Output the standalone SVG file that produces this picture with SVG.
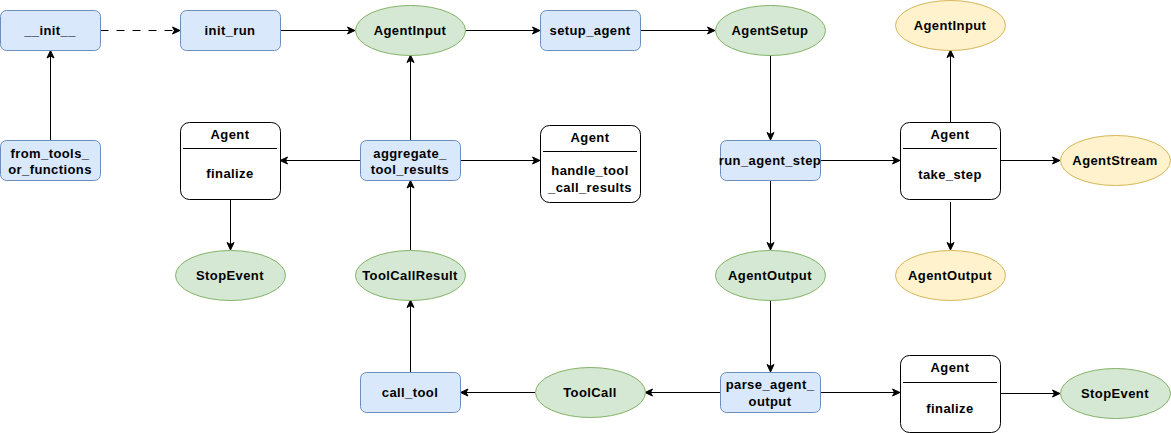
<svg xmlns="http://www.w3.org/2000/svg" width="1171" height="433" viewBox="0 0 1171 433">
<defs>
<marker id="arr" markerUnits="userSpaceOnUse" markerWidth="10" markerHeight="10" refX="8" refY="4.5" orient="auto">
<path d="M0.5,1 L8,4.5 L0.5,8 L2.5,4.5 Z" fill="#000" stroke="#000" stroke-width="1"/>
</marker>
</defs>
<style>
text{font-family:"Liberation Sans",Arial,Helvetica,sans-serif;font-size:13px;letter-spacing:0.4px;font-weight:bold;fill:#000;text-anchor:middle}
.fn{fill:#dae8fc;stroke:#6c8ebf;stroke-width:1}
.ev{fill:#d5e8d4;stroke:#82b366;stroke-width:1}
.yv{fill:#fff2cc;stroke:#d6b656;stroke-width:1}
.ag{fill:#fff;stroke:#000;stroke-width:1}
.dv{stroke:#000;stroke-width:1}
.c{fill:none;stroke:#000;stroke-width:1;marker-end:url(#arr)}
.d{stroke-dasharray:8 8}
</style>
<rect width="1171" height="433" fill="#fff"/>
<g id="connectors">
<path class="c d" d="M100.5,30.5 L180,30.5"/>
<path class="c" d="M50.5,140 L50.5,50.5"/>
<path class="c" d="M280,30.5 L355,30.5"/>
<path class="c" d="M465,30.5 L540,30.5"/>
<path class="c" d="M640,30.5 L715,30.5"/>
<path class="c" d="M770.5,55 L770.5,140"/>
<path class="c" d="M410.5,140 L410.5,55"/>
<path class="c" d="M360,160.5 L280,160.5"/>
<path class="c" d="M460,160.5 L540,160.5"/>
<path class="c" d="M230.5,199 L230.5,250"/>
<path class="c" d="M410.5,250 L410.5,180.5"/>
<path class="c" d="M410.5,372 L410.5,300"/>
<path class="c" d="M720,392.5 L645,392.5"/>
<path class="c" d="M535,392.5 L460.5,392.5"/>
<path class="c" d="M770.5,300 L770.5,372"/>
<path class="c" d="M770.5,180.5 L770.5,250"/>
<path class="c" d="M820,160.5 L900,160.5"/>
<path class="c" d="M1000.5,160.5 L1060,160.5"/>
<path class="c" d="M950.5,202 L950.5,250"/>
<path class="c" d="M950.5,122 L950.5,50"/>
<path class="c" d="M820.5,392.5 L900,392.5"/>
<path class="c" d="M1000.5,393.5 L1060,393.5"/>
</g>
<g id="init"><rect class="fn" x="0.5" y="10.5" width="100" height="40" rx="6"/><text x="50" y="35">__init__</text></g>
<g id="from_tools"><rect class="fn" x="0.5" y="140.5" width="100" height="40" rx="6"/><text x="50" y="158">from_tools_</text><text x="50" y="174">or_functions</text></g>
<g id="init_run"><rect class="fn" x="180.5" y="10.5" width="100" height="40" rx="6"/><text x="230" y="35">init_run</text></g>
<g id="agent_input"><ellipse class="ev" cx="410.5" cy="30.5" rx="55" ry="25"/><text x="410" y="35">AgentInput</text></g>
<g id="setup_agent"><rect class="fn" x="540.5" y="10.5" width="100" height="40" rx="6"/><text x="590" y="35">setup_agent</text></g>
<g id="agent_setup"><ellipse class="ev" cx="770.5" cy="30.5" rx="55" ry="25"/><text x="770" y="35">AgentSetup</text></g>
<g id="agent_input_y"><ellipse class="yv" cx="950.5" cy="25.5" rx="55" ry="25"/><text x="950" y="30">AgentInput</text></g>
<g id="agent_finalize_l"><rect class="ag" x="180.5" y="122.5" width="100" height="77" rx="9"/><line class="dv" x1="183" y1="148.5" x2="277" y2="148.5"/><text x="230" y="139">Agent</text><text x="230" y="178">finalize</text></g>
<g id="aggregate"><rect class="fn" x="360.5" y="140.5" width="100" height="40" rx="6"/><text x="410" y="158">aggregate_</text><text x="410" y="174">tool_results</text></g>
<g id="handle_tool"><rect class="ag" x="540.5" y="125.5" width="100" height="77" rx="9"/><line class="dv" x1="543" y1="151.5" x2="637" y2="151.5"/><text x="590" y="142">Agent</text><text x="590" y="175">handle_tool</text><text x="590" y="192">_call_results</text></g>
<g id="run_agent_step"><rect class="fn" x="720.5" y="140.5" width="100" height="40" rx="6"/><text x="770" y="165">run_agent_step</text></g>
<g id="take_step"><rect class="ag" x="900.5" y="122.5" width="100" height="77" rx="9"/><line class="dv" x1="903" y1="148.5" x2="997" y2="148.5"/><text x="950" y="139">Agent</text><text x="950" y="179">take_step</text></g>
<g id="agent_stream"><ellipse class="yv" cx="1115.5" cy="160.5" rx="55" ry="25"/><text x="1115" y="165">AgentStream</text></g>
<g id="stop_event_l"><ellipse class="ev" cx="230.5" cy="275.5" rx="55" ry="25"/><text x="230" y="280">StopEvent</text></g>
<g id="tool_call_result"><ellipse class="ev" cx="410.5" cy="275.5" rx="55" ry="25"/><text x="410" y="280">ToolCallResult</text></g>
<g id="agent_output_g"><ellipse class="ev" cx="770.5" cy="275.5" rx="55" ry="25"/><text x="770" y="280">AgentOutput</text></g>
<g id="agent_output_y"><ellipse class="yv" cx="950.5" cy="275.5" rx="55" ry="25"/><text x="950" y="280">AgentOutput</text></g>
<g id="call_tool"><rect class="fn" x="360.5" y="372.5" width="100" height="40" rx="6"/><text x="410" y="397">call_tool</text></g>
<g id="tool_call"><ellipse class="ev" cx="590.5" cy="392.5" rx="55" ry="25"/><text x="590" y="397">ToolCall</text></g>
<g id="parse_agent_output"><rect class="fn" x="720.5" y="372.5" width="100" height="40" rx="6"/><text x="770" y="389">parse_agent_</text><text x="770" y="406">output</text></g>
<g id="agent_finalize_r"><rect class="ag" x="900.5" y="355.5" width="100" height="77" rx="9"/><line class="dv" x1="903" y1="382.5" x2="997" y2="382.5"/><text x="950" y="372">Agent</text><text x="950" y="413">finalize</text></g>
<g id="stop_event_r"><ellipse class="ev" cx="1115.5" cy="393.5" rx="55" ry="25"/><text x="1115" y="398">StopEvent</text></g>
</svg>
